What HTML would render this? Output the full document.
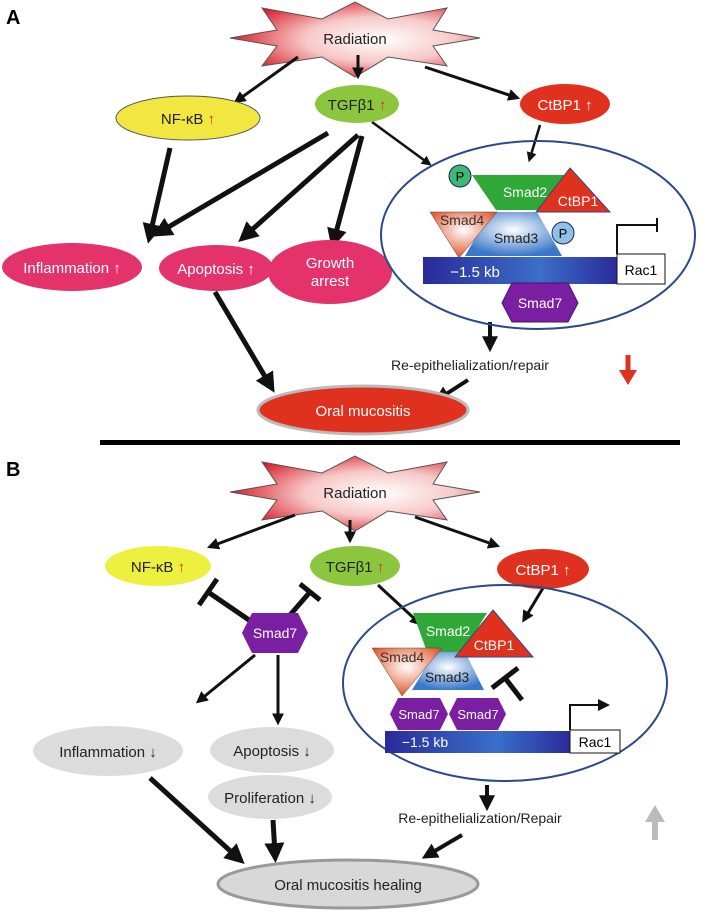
<!DOCTYPE html>
<html><head><meta charset="utf-8"><style>
html,body{margin:0;padding:0;background:#fff;}
svg{display:block;font-family:"Liberation Sans",Arial,sans-serif;}
</style></head><body>
<svg width="702" height="913" viewBox="0 0 702 913" xmlns="http://www.w3.org/2000/svg">
<defs>
<radialGradient id="rad" cx="0.6" cy="0.5" r="0.6"><stop offset="0" stop-color="#fff"/><stop offset="0.5" stop-color="#f7c8c8"/><stop offset="1" stop-color="#d8202a"/></radialGradient>
<linearGradient id="dna" x1="0" x2="1"><stop offset="0" stop-color="#2a2a9a"/><stop offset="0.6" stop-color="#3a6fc8"/><stop offset="1" stop-color="#2a2a9a"/></linearGradient>
<radialGradient id="s3" cx="0.5" cy="0.4" r="0.6"><stop offset="0" stop-color="#fff"/><stop offset="1" stop-color="#3a78c8"/></radialGradient>
<radialGradient id="s4" cx="0.5" cy="0.4" r="0.6"><stop offset="0" stop-color="#fff"/><stop offset="1" stop-color="#e2552a"/></radialGradient>
<marker id="ah" markerWidth="4" markerHeight="4" refX="2.2" refY="2" orient="auto" markerUnits="strokeWidth"><path d="M0,0 L4,2 L0,4 z" fill="#111"/></marker>
<g id="star"><polygon points="480,38 433,46 447,66 388,57 355,77 322,57 262,66 277,46 230,38 277,30 262,8 322,19 355,2 388,19 447,8 433,30" fill="url(#rad)" stroke="#555" stroke-width="1"/></g>
</defs>

<!-- Panel A -->
<text x="6" y="24" font-size="20" font-weight="bold">A</text>
<use href="#star"/>
<text x="355" y="44" font-size="15" text-anchor="middle" fill="#222">Radiation</text>
<g stroke="#111" stroke-width="3" fill="none" marker-end="url(#ah)">
<line x1="298" y1="57" x2="238" y2="100"/>
<line x1="358" y1="55" x2="358" y2="74"/>
<line x1="425" y1="67" x2="515" y2="97"/>
<line x1="540" y1="125" x2="530" y2="158" stroke-width="2.5"/>
<line x1="372" y1="122" x2="428" y2="163" stroke-width="2.5"/>
</g>
<g stroke="#111" stroke-width="5" fill="none" marker-end="url(#ah)">
<line x1="170" y1="148" x2="150" y2="235"/>
<line x1="328" y1="133" x2="160" y2="232"/>
<line x1="358" y1="135" x2="245" y2="236"/>
<line x1="362" y1="136" x2="334" y2="240"/>
<line x1="215" y1="292" x2="270" y2="385"/>
<line x1="490" y1="322" x2="490" y2="345" stroke-width="4"/>
<line x1="468" y1="380" x2="440" y2="398" stroke-width="4"/>
</g>
<ellipse cx="188" cy="118" rx="72" ry="22" fill="#f2e640" stroke="#555"/>
<text x="188" y="124" font-size="15" text-anchor="middle" fill="#222">NF-κB <tspan fill="#e03020">↑</tspan></text>
<ellipse cx="357" cy="104" rx="42" ry="19" fill="#8cc63f"/>
<text x="357" y="110" font-size="15" text-anchor="middle" fill="#222">TGFβ1 <tspan fill="#e03020">↑</tspan></text>
<ellipse cx="565" cy="104" rx="45" ry="20" fill="#e0301e"/>
<text x="565" y="110" font-size="15" text-anchor="middle" fill="#fff">CtBP1 ↑</text>
<ellipse cx="72" cy="267" rx="70" ry="24" fill="#e4326b"/>
<text x="72" y="273" font-size="15" text-anchor="middle" fill="#fff">Inflammation ↑</text>
<ellipse cx="216" cy="268" rx="57" ry="23" fill="#e4326b"/>
<text x="216" y="274" font-size="15" text-anchor="middle" fill="#fff">Apoptosis ↑</text>
<ellipse cx="330" cy="272" rx="62" ry="32" fill="#e4326b"/>
<text x="330" y="268" font-size="15" text-anchor="middle" fill="#fff">Growth</text>
<text x="330" y="286" font-size="15" text-anchor="middle" fill="#fff">arrest</text>
<!-- nucleus A -->
<ellipse cx="538" cy="235" rx="157" ry="94" fill="none" stroke="#2b4a86" stroke-width="2"/>
<polygon points="472,175 577,175 556,210 496,210" fill="#2fa838"/>
<text x="525" y="197" font-size="14" text-anchor="middle" fill="#fff">Smad2</text>
<circle cx="460" cy="176" r="11" fill="#3cb878" stroke="#225" stroke-width="1"/>
<text x="460" y="181" font-size="13" text-anchor="middle">P</text>
<polygon points="570,168 610,212 536,212" fill="#e0301e" stroke="#2b4a86"/>
<text x="578" y="206" font-size="14" text-anchor="middle" fill="#fff">CtBP1</text>
<polygon points="490,212 537,212 562,256 465,256" fill="url(#s3)"/>
<polygon points="430,212 497,212 459,258" fill="url(#s4)" stroke="#444" stroke-width="0.5"/>
<text x="462" y="225" font-size="14" text-anchor="middle" fill="#333">Smad4</text>
<text x="516" y="243" font-size="14" text-anchor="middle" fill="#222">Smad3</text>
<circle cx="563" cy="233" r="11" fill="#8ec0e8" stroke="#225"/>
<text x="563" y="238" font-size="13" text-anchor="middle">P</text>
<rect x="423" y="257" width="195" height="27" fill="url(#dna)"/>
<text x="475" y="277" font-size="15" text-anchor="middle" fill="#fff">−1.5 kb</text>
<rect x="617" y="254" width="48" height="30" fill="#fff" stroke="#111"/>
<text x="641" y="275" font-size="14" text-anchor="middle">Rac1</text>
<path d="M617,254 V225 H657 M657,218 V232" stroke="#111" stroke-width="2" fill="none"/>
<polygon points="512,283 568,283 578,303 568,322 512,322 502,303" fill="#7a1fa2" stroke="#4a1070"/>
<text x="540" y="308" font-size="14" text-anchor="middle" fill="#fff">Smad7</text>
<text x="470" y="370" font-size="14" text-anchor="middle" fill="#222">Re-epithelialization/repair</text>
<line x1="628" y1="355" x2="628" y2="372" stroke="#e03020" stroke-width="5"/>
<polygon points="619,370 637,370 628,385" fill="#e03020"/>
<ellipse cx="363" cy="410" rx="105" ry="24" fill="#e0301e" stroke="#bbb" stroke-width="3"/>
<text x="363" y="416" font-size="15" text-anchor="middle" fill="#fff">Oral mucositis</text>
<rect x="100" y="440" width="580" height="5" fill="#000"/>

<!-- Panel B -->
<text x="6" y="476" font-size="20" font-weight="bold">B</text>
<use href="#star" transform="translate(0,454)"/>
<text x="355" y="498" font-size="15" text-anchor="middle" fill="#222">Radiation</text>
<g stroke="#111" stroke-width="3" fill="none" marker-end="url(#ah)">
<line x1="295" y1="515" x2="212" y2="546"/>
<line x1="350" y1="520" x2="350" y2="538"/>
<line x1="415" y1="517" x2="495" y2="545"/>
<line x1="378" y1="585" x2="418" y2="622"/>
<line x1="543" y1="588" x2="525" y2="618"/>
<line x1="255" y1="655" x2="200" y2="700"/>
<line x1="278" y1="655" x2="278" y2="720"/>
</g>
<g stroke="#111" stroke-width="5" fill="none" marker-end="url(#ah)">
<line x1="150" y1="778" x2="238" y2="858"/>
<line x1="273" y1="820" x2="275" y2="854"/>
<line x1="487" y1="785" x2="487" y2="804" stroke-width="4"/>
<line x1="462" y1="835" x2="428" y2="855" stroke-width="4"/>
</g>
<g stroke="#111" stroke-width="5" fill="none">
<line x1="252" y1="622" x2="208" y2="592"/><line x1="199" y1="605" x2="217" y2="579"/>
<line x1="290" y1="615" x2="310" y2="592"/><line x1="300" y1="584" x2="320" y2="600"/>
<line x1="522" y1="700" x2="505" y2="678"/><line x1="492" y1="688" x2="518" y2="668"/>
</g>
<ellipse cx="158" cy="566" rx="53" ry="20" fill="#eef040"/>
<text x="158" y="572" font-size="15" text-anchor="middle" fill="#222">NF-κB <tspan fill="#e03020">↑</tspan></text>
<ellipse cx="355" cy="566" rx="45" ry="20" fill="#8cc63f"/>
<text x="355" y="572" font-size="15" text-anchor="middle" fill="#222">TGFβ1 <tspan fill="#e03020">↑</tspan></text>
<ellipse cx="543" cy="569" rx="46" ry="20" fill="#e0301e"/>
<text x="543" y="575" font-size="15" text-anchor="middle" fill="#fff">CtBP1 ↑</text>
<polygon points="252,613 298,613 308,633 298,653 252,653 242,633" fill="#7a1fa2"/>
<text x="275" y="638" font-size="14" text-anchor="middle" fill="#fff">Smad7</text>
<ellipse cx="108" cy="751" rx="75" ry="25" fill="#dcdcdc"/>
<text x="108" y="757" font-size="15" text-anchor="middle" fill="#222">Inflammation ↓</text>
<ellipse cx="272" cy="750" rx="62" ry="23" fill="#dcdcdc"/>
<text x="272" y="756" font-size="15" text-anchor="middle" fill="#222">Apoptosis ↓</text>
<ellipse cx="270" cy="797" rx="62" ry="22" fill="#dcdcdc"/>
<text x="270" y="803" font-size="15" text-anchor="middle" fill="#222">Proliferation ↓</text>
<!-- nucleus B -->
<ellipse cx="505" cy="683" rx="162" ry="98" fill="none" stroke="#2b4a86" stroke-width="2"/>
<polygon points="413,613 487,613 463,652 427,652" fill="#2fa838"/>
<text x="448" y="636" font-size="14" text-anchor="middle" fill="#fff">Smad2</text>
<polygon points="435,652 465,652 484,690 412,690" fill="url(#s3)"/>
<polygon points="493,610 533,657 455,657" fill="#e0301e" stroke="#2b4a86"/>
<text x="494" y="650" font-size="14" text-anchor="middle" fill="#fff">CtBP1</text>
<polygon points="372,648 442,648 402,696" fill="url(#s4)" stroke="#444" stroke-width="0.5"/>
<text x="402" y="662" font-size="14" text-anchor="middle" fill="#333">Smad4</text>
<text x="447" y="682" font-size="14" text-anchor="middle" fill="#222">Smad3</text>
<polygon points="398,698 440,698 448,714 440,730 398,730 390,714" fill="#7a1fa2"/>
<text x="419" y="719" font-size="13" text-anchor="middle" fill="#fff">Smad7</text>
<polygon points="457,698 498,698 506,714 498,730 457,730 449,714" fill="#7a1fa2"/>
<text x="478" y="719" font-size="13" text-anchor="middle" fill="#fff">Smad7</text>
<rect x="385" y="731" width="186" height="22" fill="url(#dna)"/>
<text x="425" y="747" font-size="14" text-anchor="middle" fill="#fff">−1.5 kb</text>
<rect x="570" y="730" width="50" height="23" fill="#fff" stroke="#111"/>
<text x="595" y="747" font-size="14" text-anchor="middle">Rac1</text>
<path d="M570,730 V705 H600" stroke="#111" stroke-width="2" fill="none"/>
<polygon points="598,699 610,705 598,711" fill="#111"/>
<text x="480" y="823" font-size="14" text-anchor="middle" fill="#222">Re-epithelialization/Repair</text>
<line x1="655" y1="820" x2="655" y2="840" stroke="#bbb" stroke-width="6"/>
<polygon points="645,822 665,822 655,805" fill="#bbb"/>
<ellipse cx="348" cy="884" rx="130" ry="24" fill="#d8d8d8" stroke="#999" stroke-width="3"/>
<text x="348" y="890" font-size="15" text-anchor="middle" fill="#222">Oral mucositis healing</text>
</svg>
</body></html>
